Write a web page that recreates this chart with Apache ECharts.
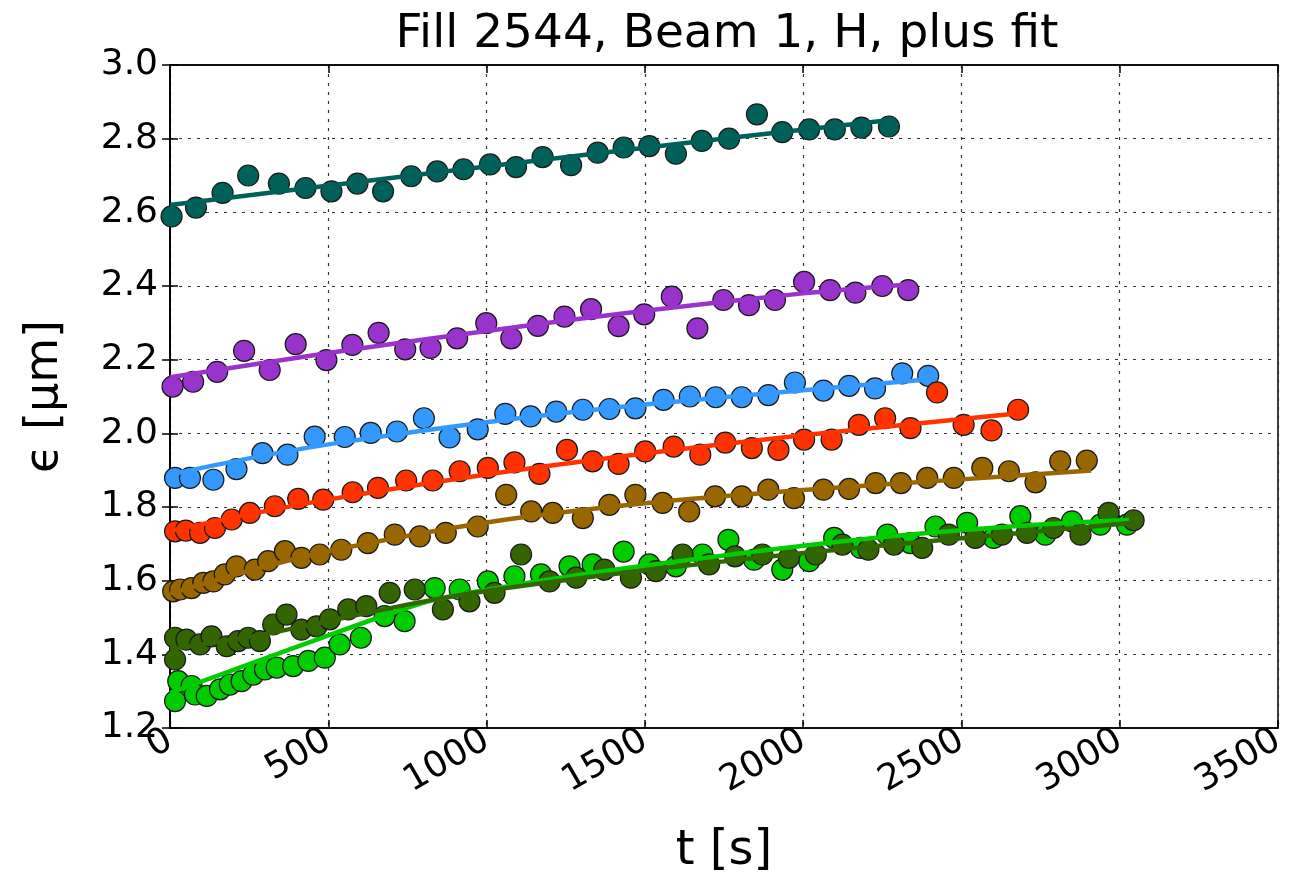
<!DOCTYPE html>
<html>
<head>
<meta charset="utf-8">
<script src="https://cdn.jsdelivr.net/npm/echarts@6.0.0/dist/echarts.min.js"></script>
<style>
  html, body { margin: 0; padding: 0; background: #fff; }
  #chart { width: 1293px; height: 875px; }
</style>
</head>
<body>
<div id="chart"></div>
<script>
// measured emittance [t (s), eps (um)] per bunch, plus fitted curves
const teal = [[5,2.589],[82,2.613],[166,2.653],[247,2.700],[344,2.678],[428,2.666],[510,2.657],[592,2.678],[673,2.657],[762,2.698],[844,2.711],[927,2.717],[1011,2.730],[1093,2.723],[1177,2.750],[1267,2.728],[1351,2.762],[1433,2.776],[1514,2.780],[1598,2.759],[1680,2.794],[1766,2.800],[1854,2.866],[1934,2.818],[2019,2.825],[2100,2.825],[2184,2.830],[2271,2.833]]
const tealFit = [[0,2.62],[600,2.683],[1200,2.745],[1800,2.805],[2290,2.852]]

const purple = [[8,2.127],[73,2.140],[149,2.167],[234,2.224],[315,2.172],[397,2.242],[494,2.199],[576,2.240],[659,2.273],[743,2.228],[823,2.232],[907,2.258],[999,2.299],[1078,2.258],[1162,2.292],[1246,2.317],[1330,2.337],[1417,2.291],[1498,2.323],[1585,2.371],[1666,2.285],[1748,2.362],[1829,2.348],[1911,2.362],[2003,2.411],[2085,2.389],[2165,2.382],[2250,2.400],[2332,2.389]]
const purpleFit = [[0,2.152],[500,2.218],[1000,2.278],[1500,2.333],[2000,2.38],[2340,2.405]]

const blue = [[16,1.879],[63,1.879],[137,1.874],[210,1.903],[292,1.946],[371,1.942],[457,1.991],[552,1.990],[634,2.001],[717,2.005],[802,2.041],[883,1.989],[972,2.011],[1059,2.053],[1139,2.046],[1220,2.059],[1304,2.064],[1388,2.066],[1470,2.068],[1559,2.091],[1642,2.100],[1724,2.098],[1806,2.098],[1890,2.104],[1974,2.138],[2064,2.116],[2145,2.129],[2227,2.122],[2313,2.163],[2395,2.156]]
const blueFit = [[0,1.888],[250,1.932],[500,1.97],[1000,2.03],[1500,2.078],[2000,2.117],[2400,2.147]]

const red = [[16,1.734],[50,1.736],[95,1.730],[142,1.743],[195,1.766],[252,1.784],[331,1.802],[405,1.822],[484,1.820],[577,1.840],[657,1.852],[746,1.872],[830,1.872],[915,1.897],[1004,1.906],[1088,1.921],[1167,1.890],[1254,1.955],[1335,1.924],[1417,1.917],[1501,1.951],[1591,1.964],[1675,1.942],[1754,1.975],[1838,1.960],[1922,1.955],[2003,1.983],[2090,1.983],[2176,2.023],[2259,2.041],[2339,2.014],[2423,2.111],[2507,2.023],[2595,2.008],[2679,2.064]]
const redFit = [[0,1.735],[250,1.78],[500,1.82],[1000,1.888],[1500,1.945],[2000,1.995],[2690,2.055]]

const brown = [[10,1.571],[32,1.576],[68,1.580],[105,1.594],[137,1.598],[173,1.617],[210,1.639],[268,1.630],[310,1.653],[363,1.680],[415,1.662],[473,1.671],[541,1.684],[625,1.702],[710,1.725],[789,1.720],[871,1.730],[972,1.747],[1062,1.833],[1141,1.788],[1209,1.784],[1304,1.770],[1388,1.806],[1470,1.833],[1556,1.811],[1640,1.788],[1722,1.829],[1806,1.829],[1890,1.847],[1971,1.824],[2064,1.847],[2145,1.849],[2229,1.865],[2309,1.865],[2392,1.879],[2476,1.879],[2566,1.906],[2650,1.897],[2734,1.867],[2812,1.924],[2896,1.926]]
const brownFit = [[0,1.565],[250,1.627],[500,1.68],[1000,1.758],[1500,1.81],[2000,1.846],[2500,1.875],[2910,1.899]]

const ltgreen = [[16,1.273],[26,1.327],[68,1.314],[79,1.291],[116,1.287],[158,1.305],[189,1.318],[226,1.327],[263,1.345],[300,1.359],[337,1.364],[389,1.368],[437,1.382],[489,1.391],[536,1.427],[603,1.445],[678,1.504],[741,1.490],[836,1.580],[915,1.576],[1004,1.598],[1088,1.612],[1172,1.617],[1262,1.639],[1335,1.644],[1433,1.679],[1514,1.644],[1598,1.639],[1682,1.671],[1764,1.711],[1845,1.657],[1934,1.630],[2019,1.653],[2098,1.716],[2182,1.689],[2266,1.725],[2339,1.702],[2418,1.747],[2518,1.757],[2602,1.716],[2686,1.775],[2765,1.725],[2849,1.761],[2939,1.752],[3023,1.752]]
const ltgreenFit = [[0,1.295],[400,1.42],[800,1.54],[1000,1.575],[1300,1.617],[1600,1.652],[2000,1.695],[2400,1.73],[2800,1.755],[3030,1.765]]

const dkgreen = [[16,1.445],[16,1.386],[52,1.440],[95,1.427],[131,1.449],[179,1.422],[215,1.436],[247,1.445],[284,1.436],[326,1.481],[368,1.508],[415,1.467],[463,1.476],[505,1.495],[563,1.522],[620,1.531],[694,1.567],[773,1.576],[862,1.522],[946,1.544],[1025,1.567],[1109,1.671],[1199,1.598],[1283,1.608],[1372,1.630],[1456,1.608],[1535,1.626],[1619,1.671],[1703,1.644],[1785,1.666],[1871,1.671],[1955,1.662],[2040,1.671],[2124,1.698],[2206,1.684],[2287,1.698],[2376,1.689],[2460,1.725],[2544,1.716],[2628,1.725],[2707,1.730],[2791,1.743],[2876,1.725],[2965,1.784],[3044,1.764]]
const dkgreenFit = [[0,1.415],[250,1.447],[500,1.49],[750,1.535],[1000,1.572],[1500,1.628],[2000,1.675],[2500,1.715],[3050,1.758]]

const groups = [
  { pts: teal, fit: tealFit, color: '#00605a' },
  { pts: purple, fit: purpleFit, color: '#9933cc' },
  { pts: blue, fit: blueFit, color: '#3399ff' },
  { pts: red, fit: redFit, color: '#ff3300' },
  { pts: brown, fit: brownFit, color: '#996600' },
  { pts: ltgreen, fit: ltgreenFit, color: '#00cc00' },
  { pts: dkgreen, fit: dkgreenFit, color: '#336600' }
]

const font = 'DejaVu Sans'

const chart = echarts.init(document.getElementById('chart'))

const series = []
groups.forEach(g => {
  series.push({
    type: 'scatter',
    data: g.pts,
    symbol: 'circle',
    symbolSize: 21,
    itemStyle: { color: g.color, borderColor: '#1a1a1a', borderWidth: 1.2, opacity: 1 },
    silent: true
  })
  series.push({
    type: 'line',
    data: g.fit,
    showSymbol: false,
    smooth: 0.3,
    lineStyle: { color: g.color, width: 4.5 },
    silent: true
  })
})

const tickStyle = { inside: true, length: 8, lineStyle: { color: '#000', width: 1.5 } }

chart.setOption({
  animation: false,
  backgroundColor: '#fff',
  title: {
    text: 'Fill 2544, Beam 1, H, plus fit',
    left: 722,
    textAlign: 'center',
    top: 6,
    textStyle: { fontFamily: font, fontSize: 47, fontWeight: 'normal', color: '#000' }
  },
  grid: {
    left: 170, right: 15, top: 65, bottom: 147,
    outerBoundsMode: 'none',
    show: true, borderColor: '#000', borderWidth: 1.5
  },
  xAxis: [{
    type: 'value', min: 0, max: 3500, interval: 500,
    name: 't [s]', nameLocation: 'middle', nameGap: 100,
    nameTextStyle: { fontFamily: font, fontSize: 48, color: '#000' },
    axisLine: { show: true, lineStyle: { color: '#000', width: 1.5 } },
    axisTick: tickStyle,
    axisLabel: { fontFamily: font, fontSize: 36, color: '#000', rotate: 30, margin: 10, formatter: v => String(v) },
    splitLine: { show: true, lineStyle: { color: '#333', type: [3, 6], width: 1.2 } }
  }, {
    type: 'value', min: 0, max: 3500, interval: 500, position: 'top',
    axisLine: { show: true, lineStyle: { color: '#000', width: 1.5 } },
    axisTick: tickStyle, axisLabel: { show: false }, splitLine: { show: false }
  }],
  yAxis: [{
    type: 'value', min: 1.2, max: 3.0, interval: 0.2,
    name: 'ϵ [μm]', nameLocation: 'middle', nameGap: 102,
    nameTextStyle: { fontFamily: font, fontSize: 46, color: '#000' },
    axisLine: { show: true, lineStyle: { color: '#000', width: 1.5 } },
    axisTick: tickStyle,
    axisLabel: { fontFamily: font, fontSize: 36, color: '#000', margin: 12, formatter: v => v.toFixed(1) },
    splitLine: { show: true, lineStyle: { color: '#333', type: [3, 6], width: 1.2 } }
  }, {
    type: 'value', min: 1.2, max: 3.0, interval: 0.2, position: 'right',
    axisLine: { show: true, lineStyle: { color: '#000', width: 1.5 } },
    axisTick: tickStyle, axisLabel: { show: false }, splitLine: { show: false }
  }],
  series: series
})
</script>
</body>
</html>
